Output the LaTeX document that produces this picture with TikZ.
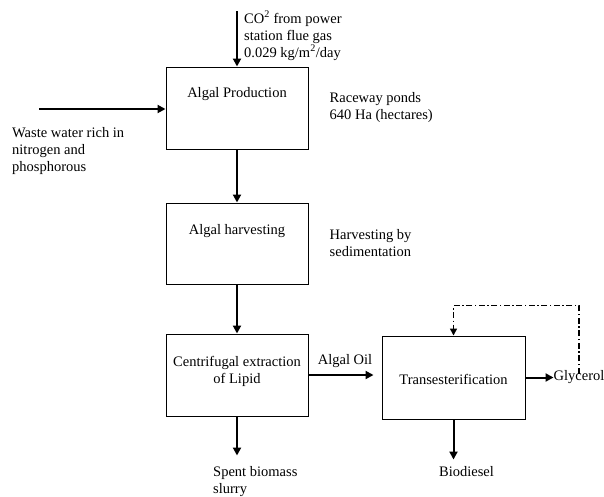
\documentclass[tikz,border=0pt]{standalone}
\usepackage{fontspec}
\setmainfont{Liberation Serif}
\usetikzlibrary{positioning, arrows.meta}

\begin{document}
\begin{tikzpicture}[x=1pt, y=-1pt]
    \tikzset{stage/.style={rectangle,draw=black,line width=1pt,minimum width=142pt,minimum height=82pt}}
    \tikzset{note/.style={inner sep=0pt,align=left,font=\fontsize{14.5}{17}\selectfont}}
    \tikzset{caption/.style={note,align=center}}
    \tikzset{flow/.style={-{Triangle[length=8pt,width=8pt]},line width=2pt}}
    \tikzset{recycle/.style={-{Triangle[length=7pt,width=7pt]},line width=1.5pt,dash pattern=on 6pt off 2.5pt on 1.5pt off 2.5pt}}
    \useasboundingbox (0,0) rectangle (604,496);

    % Process stages
    \node[stage] (prod) at (237,108) {};
    \node[stage, minimum height=81pt, below=53pt of prod] (harv) {};
    \node[stage, below=49pt of harv] (lipid) {};
    \node[stage, minimum width=143pt, minimum height=83pt, right=73pt of lipid, yshift=-2.5pt] (trans) {};

    \node[caption, below=21pt of prod.north] (prod text) {Algal Production};
    \node[caption, below=22pt of harv.north] (harv text) {Algal harvesting};
    \node[caption, below=23pt of lipid.north] (lipid text) {Centrifugal extraction\\of Lipid};
    \node[caption, below=39pt of trans.north] (trans text) {Transesterification};

    % Inputs
    \node[note, above right=6pt and 7pt of prod.north] (co2)
    {CO\textsuperscript{2} from power\\station flue gas\\0.029 kg/m\textsuperscript{2}/day};
    \node[note, anchor=west] (waste) at (12,151) {Waste water rich in\\nitrogen and\\phosphorous};
    \coordinate (waste in) at (39,109);

    \draw[flow] (co2.north west -| prod.north) -- (prod.north);
    \draw[flow] (waste in) -- (waste in -| prod.west);

    % Side notes
    \node[note, right=21pt of prod] (ponds) {Raceway ponds\\640 Ha (hectares)};
    \node[note, right=21pt of harv] (settle) {Harvesting by\\sedimentation};

    % Main line
    \draw[flow] (prod) -- (harv);
    \draw[flow] (harv) -- (lipid);
    \draw[flow, shorten >=8pt] (lipid.east) -- (lipid.east -| trans.west)
        node[note, midway, above=6pt] (oil) {Algal Oil};

    % Outputs
    \coordinate[below=39pt of lipid] (spent out);
    \node[note, below right=11pt and -24pt of spent out] (spent) {Spent biomass\\slurry};
    \draw[flow] (lipid) -- (spent out);

    \coordinate[below=40pt of trans] (diesel out);
    \node[note, below=7pt of diesel out, xshift=13pt] (diesel) {Biodiesel};
    \draw[flow] (trans) -- (diesel out);

    \node[note, right=28pt of trans] (glyc) {Glycerol};
    \draw[flow] (trans) -- (glyc);
    \draw[recycle] (glyc.north) ++(0,3) -- ++(0,-68) -| (trans.north);
\end{tikzpicture}
\end{document}
